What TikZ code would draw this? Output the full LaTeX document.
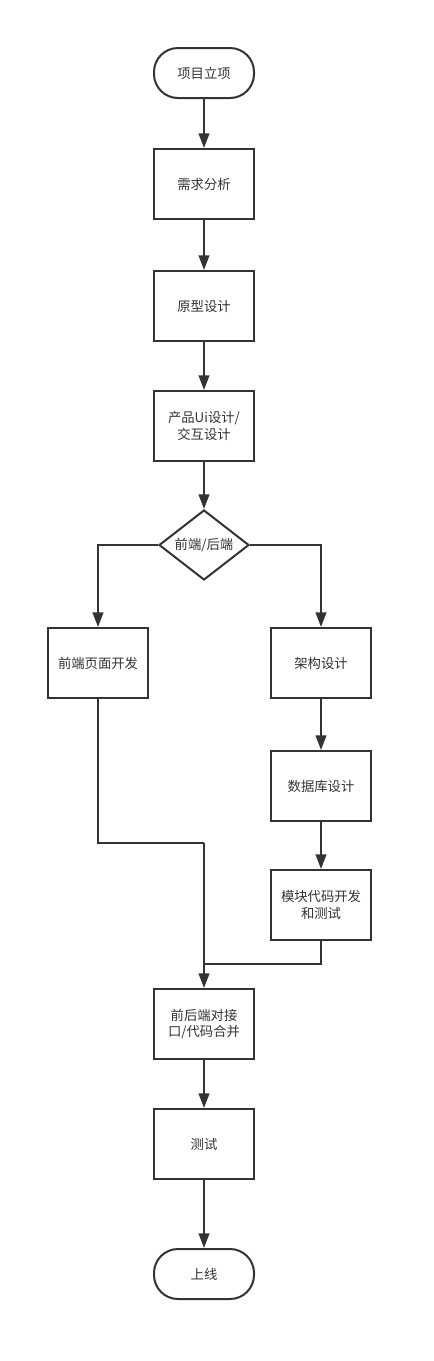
\documentclass[tikz,border=0pt]{standalone}
\usepackage{fontspec}
\setmainfont{Noto Sans CJK SC}
\usetikzlibrary{arrows.meta,shapes.geometric}

\definecolor{linegray}{HTML}{333333}

\tikzset{
  stepbox/.style={draw=linegray,line width=1.5pt,minimum width=75pt,minimum height=52.5pt,
    inner sep=0pt,align=center,text=linegray,font=\fontsize{10}{12.5}\selectfont},
  endbox/.style={stepbox,rounded corners=18pt,minimum height=37.5pt},
  choice/.style={draw=linegray,line width=1.5pt,diamond,aspect=1.2857,inner sep=0pt,
    minimum width=67.5pt,minimum height=52.5pt,text=linegray,font=\fontsize{10}{12.5}\selectfont},
  flow/.style={draw=linegray,line width=1.5pt,-{Triangle[length=11pt,width=8pt]}},
  mergeline/.style={draw=linegray,line width=1.5pt}
}

\begin{document}
\begin{tikzpicture}[x=0.75pt,y=-0.75pt]
        \useasboundingbox (0,0) rectangle (433,1361);
        \node[endbox] (1) at (204,73) {项目立项};
        \node[stepbox] (2) at (204,184) {需求分析};
        \node[stepbox] (3) at (204,306) {原型设计};
        \node[stepbox] (4) at (204,426) {产品Ui设计/\\交互设计};
        \node[choice] (5) at (204,545) {前端/后端};
        \node[stepbox] (6) at (98,663) {前端页面开发};
        \node[stepbox] (7) at (321,663) {架构设计};
        \node[stepbox] (8) at (321,786) {数据库设计};
        \node[stepbox] (9) at (321,905) {模块代码开发\\和测试};
        \node[stepbox] (10) at (204,1024) {前后端对接\\口/代码合并};
        \node[stepbox] (11) at (204,1144) {测试};
        \node[endbox] (12) at (204,1274) {上线};
        \coordinate (a) at (204,843);
        \coordinate (b) at (204,964);
        \draw[flow] (1) -- (2);
        \draw[flow] (2) -- (3);
        \draw[flow] (3) -- (4);
        \draw[flow] (4) -- (5);
        \draw[flow] (5.west) -| (6.north);
        \draw[flow] (5.east) -| (7.north);
        \draw[flow] (7) -- (8);
        \draw[flow] (8) -- (9);
        \draw[mergeline] (6.south) |- (a);
        \draw[mergeline] (9.south) |- (b);
        \draw[flow] (a) -- (10.north);
        \draw[flow] (10) -- (11);
        \draw[flow] (11) -- (12);
      \end{tikzpicture}
\end{document}
